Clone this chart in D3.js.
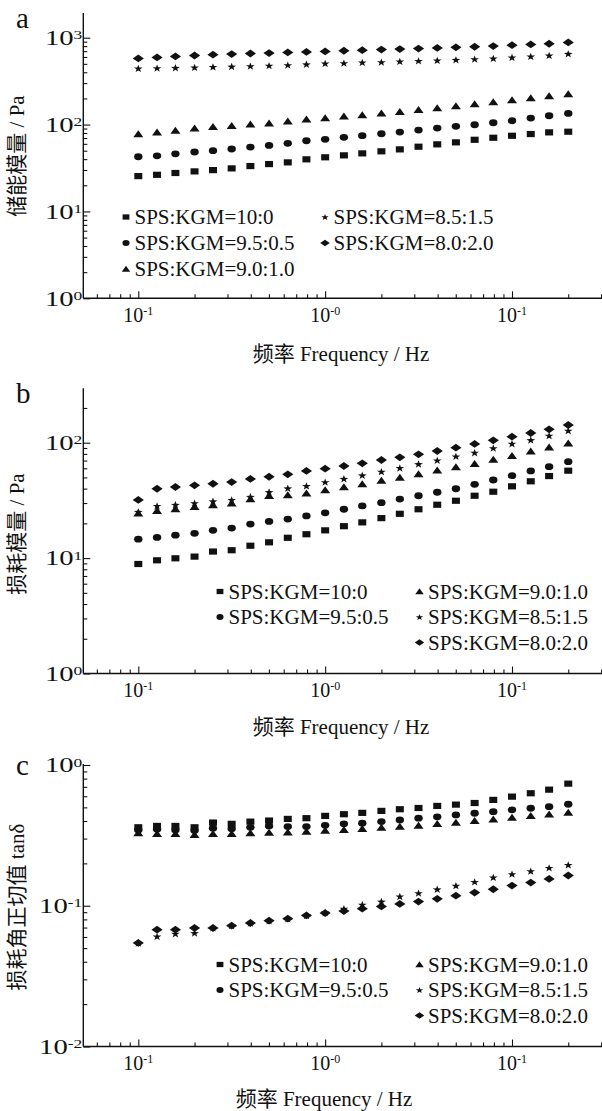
<!DOCTYPE html>
<html lang="zh">
<head>
<meta charset="UTF-8">
<title>SPS/KGM 频率扫描</title>
<script src="https://d3js.org/d3.v7.min.js"></script>
<style>
  body { margin: 0; background: #fff; }
  svg text { font-family: "Liberation Serif", Tinos, "Times New Roman", "DejaVu Serif", "Noto Sans CJK SC", serif; fill: #111; }
  .axis line, .axis path { stroke: #111; }
</style>
</head>
<body>
<div id="chart"></div>
<script>
// frequency (Hz), 10 points per decade
const freq = [0.1, 0.126, 0.158, 0.2, 0.251, 0.316, 0.398, 0.501, 0.631, 0.794,
              1, 1.26, 1.58, 2, 2.51, 3.16, 3.98, 5.01, 6.31, 7.94,
              10, 12.6, 15.8, 20];

const seriesNames = ["SPS:KGM=10:0", "SPS:KGM=9.5:0.5", "SPS:KGM=9.0:1.0", "SPS:KGM=8.5:1.5", "SPS:KGM=8.0:2.0"];
const seriesShapes = ["square", "circle", "triangle", "star", "diamond"];

// a: storage modulus G' (Pa)
const storage_10_0  = [25.5, 26.4, 27.7, 28.9, 29.9, 31.3, 33.3, 35.1, 36.7, 39.8, 42.0, 44.2, 46.6, 49.2, 51.8, 55.6, 59.2, 62.4, 66.8, 70.5, 74.3, 77.8, 81.3, 82.7];
const storage_95_05 = [42.6, 43.7, 46.1, 48.3, 50.0, 52.3, 55.1, 57.6, 60.8, 65.1, 67.6, 71.3, 74.4, 78.4, 82.0, 86.4, 91.2, 95.4, 99.5, 104.9, 110.6, 118.8, 126.3, 134.5];
const storage_90_10 = [77.8, 81.3, 85.3, 90.4, 94.1, 96.6, 100.5, 103.5, 108.9, 114.8, 118.8, 124.3, 128.6, 134.5, 140.3, 148, 154.8, 163.3, 172.2, 181.6, 191.4, 201.8, 212.8, 224.4];
const storage_85_15 = [443, 447, 451, 455, 461, 466, 471, 478, 484, 495, 506, 510, 520, 524, 534, 542, 548, 557, 567, 578, 593, 609, 626, 653];
const storage_80_20 = [578, 593, 609, 624, 638, 648, 658, 666, 676, 685, 695, 708, 718, 730, 740, 750, 762, 775, 787, 800, 820, 836, 852, 883];

// b: loss modulus G'' (Pa)
const loss_10_0  = [8.89, 9.57, 9.96, 10.3, 11.4, 11.7, 12.8, 13.7, 15.0, 16.1, 17.4, 18.9, 20.4, 22.2, 24.2, 26.5, 29.0, 31.4, 34.7, 37.6, 41.9, 46.3, 51.4, 57.2];
const loss_95_05 = [14.6, 15.1, 15.8, 16.4, 17.4, 18.2, 19.7, 20.8, 21.8, 23.2, 24.7, 26.5, 28.3, 30.2, 32.5, 34.7, 37.2, 39.9, 43.6, 47.5, 51.8, 56.9, 62.0, 68.5];
const loss_90_10 = [24.4, 25.7, 26.6, 27.9, 28.8, 29.9, 32.5, 34.7, 35.2, 36.4, 38.9, 41.3, 43.9, 46.9, 49.8, 53.5, 57.6, 61.5, 65.8, 71.3, 77.1, 84.2, 91.2, 98.8];
const loss_85_15 = [25.2, 28.3, 29.0, 29.9, 31.1, 31.9, 34.0, 37.4, 40.3, 42.2, 45.6, 48.7, 52.2, 56.1, 60.4, 65.4, 70.4, 76.2, 81.9, 89.9, 98.0, 105.5, 115.0, 127.1];
const loss_80_20 = [31.9, 39.9, 41.3, 42.7, 44.1, 45.6, 48.5, 50.7, 53.2, 56.9, 59.6, 62.8, 66.3, 70.8, 74.7, 79.3, 84.7, 90.5, 97.5, 104.9, 112.8, 121.4, 130.7, 142.3];

// c: loss tangent tanδ
const tan_10_0  = [0.361, 0.369, 0.369, 0.361, 0.390, 0.382, 0.396, 0.403, 0.414, 0.419, 0.435, 0.447, 0.457, 0.472, 0.485, 0.495, 0.512, 0.523, 0.537, 0.565, 0.596, 0.630, 0.668, 0.737];
const tan_95_05 = [0.346, 0.350, 0.346, 0.342, 0.356, 0.353, 0.361, 0.369, 0.365, 0.365, 0.373, 0.382, 0.386, 0.396, 0.407, 0.419, 0.428, 0.442, 0.454, 0.466, 0.480, 0.493, 0.506, 0.526];
const tan_90_10 = [0.328, 0.324, 0.324, 0.319, 0.324, 0.324, 0.328, 0.331, 0.333, 0.336, 0.342, 0.346, 0.352, 0.359, 0.365, 0.371, 0.382, 0.390, 0.401, 0.412, 0.423, 0.435, 0.447, 0.459];
const tan_85_15 = [0.0544, 0.0606, 0.0633, 0.064, 0.0697, 0.0722, 0.0754, 0.0783, 0.0809, 0.0853, 0.0896, 0.0953, 0.1017, 0.1072, 0.1164, 0.123, 0.131, 0.139, 0.148, 0.159, 0.168, 0.176, 0.186, 0.195];
const tan_80_20 = [0.0544, 0.0676, 0.0676, 0.0695, 0.0695, 0.0722, 0.0754, 0.0783, 0.0809, 0.0853, 0.0887, 0.0917, 0.0953, 0.0989, 0.103, 0.107, 0.112, 0.118, 0.124, 0.131, 0.139, 0.146, 0.155, 0.164];

// tick labels (exponents as printed in the figure)
const xTickValues = [0.1, 1, 10];
const xTickExp = ["-1", "-0", "-1"];
const yTicksA = [1, 10, 100, 1000], yTickExpA = ["0", "1", "2", "3"];
const yTicksB = [1, 10, 100],       yTickExpB = ["0", "1", "2"];
const yTicksC = [0.01, 0.1, 1],     yTickExpC = ["-2", "-1", "0"];

const W = 602, H = 1111;
const svg = d3.select("#chart").append("svg").attr("width", W).attr("height", H);

const axisX = 83.3;
const x = d3.scaleLog().domain([0.1, 10]).range([138.3, 512]);
x.domain([x.invert(axisX), x.invert(W)]).range([axisX, W]);

const xMinor = [0.06, 0.07, 0.08, 0.09, 0.2, 0.3, 0.4, 0.5, 0.6, 0.7, 0.8, 0.9,
                2, 3, 4, 5, 6, 7, 8, 9, 20, 30];

const panels = [
  { letter: "a", letterY: 28, top: 13, bottom: 298.3, topTickY: 37.7,
    ticks: yTicksA, exps: yTickExpA,
    series: [storage_10_0, storage_95_05, storage_90_10, storage_85_15, storage_80_20],
    yTitle: "储能模量 / Pa", yTitleY: 156, xTitleX: 341, xTitleDy: 62.4,
    legendCols: [126, 325], legendRows: [-74.3, -48.3, -22.3],
    legendPos: [[0, 0], [0, 1], [0, 2], [1, 0], [1, 1]] },
  { letter: "b", letterY: 403.3, top: 388.3, bottom: 673.5, topTickY: 442.7,
    ticks: yTicksB, exps: yTickExpB,
    series: [loss_10_0, loss_95_05, loss_90_10, loss_85_15, loss_80_20],
    yTitle: "损耗模量 / Pa", yTitleY: 534, xTitleX: 341, xTitleDy: 60.5,
    legendCols: [220, 419.5], legendRows: [-75, -49.5, -24],
    legendPos: [[0, 0], [0, 1], [1, 0], [1, 1], [1, 2]] },
  { letter: "c", letterY: 775, top: 764, bottom: 1046.5, topTickY: 765,
    ticks: yTicksC, exps: yTickExpC,
    series: [tan_10_0, tan_95_05, tan_90_10, tan_85_15, tan_80_20],
    yTitle: "损耗角正切值 tanδ", yTitleY: 907, xTitleX: 324, xTitleDy: 59.5,
    legendCols: [220, 419.5], legendRows: [-75, -49.5, -24],
    legendPos: [[0, 0], [0, 1], [1, 0], [1, 1], [1, 2]] }
];

function markerPath(shape, s) {
  if (shape === "square") return `M${-4 * s},${-3.1 * s}h${8 * s}v${6.2 * s}h${-8 * s}Z`;
  if (shape === "circle") {
    const rx = 4.2 * s, ry = 3.4 * s;
    return `M${-rx},0a${rx},${ry} 0 1,0 ${2 * rx},0a${rx},${ry} 0 1,0 ${-2 * rx},0Z`;
  }
  if (shape === "triangle") return `M0,${-3.8 * s}L${5 * s},${3.2 * s}L${-5 * s},${3.2 * s}Z`;
  if (shape === "diamond") return `M0,${-3.9 * s}L${5.6 * s},0L0,${3.9 * s}L${-5.6 * s},0Z`;
  // star
  const R = 4.6 * s, r = R * 0.4, pts = [];
  for (let i = 0; i < 10; i++) {
    const a = -Math.PI / 2 + i * Math.PI / 5, rr = i % 2 ? r : R;
    pts.push([rr * Math.cos(a), rr * Math.sin(a) * 0.88 + 0.4 * s]);
  }
  return "M" + pts.map(p => p.join(",")).join("L") + "Z";
}

panels.forEach(p => {
  const y = d3.scaleLog().domain([p.ticks[0], p.ticks[p.ticks.length - 1]]).range([p.bottom, p.topTickY]);
  const yMaxVis = y.invert(p.top);
  const g = svg.append("g");

  // y minor ticks
  const yMinor = [];
  p.ticks.forEach(t => { for (let k = 2; k <= 9; k++) { const v = t * k; if (v <= yMaxVis) yMinor.push(v); } });

  g.append("g").attr("class", "axis").attr("transform", `translate(${axisX},0)`)
    .call(d3.axisRight(y).tickValues(yMinor).tickSize(4).tickFormat(""))
    .call(a => a.select(".domain").remove());
  g.append("g").attr("class", "axis").attr("transform", `translate(${axisX},0)`)
    .call(d3.axisRight(y).tickValues(p.ticks).tickSize(7).tickFormat(""))
    .call(a => a.select(".domain").remove());

  // x ticks (inward)
  g.append("g").attr("class", "axis").attr("transform", `translate(0,${p.bottom})`)
    .call(d3.axisBottom(x).tickValues(xMinor).tickSize(-4).tickFormat(""))
    .call(a => a.select(".domain").remove());
  g.append("g").attr("class", "axis").attr("transform", `translate(0,${p.bottom})`)
    .call(d3.axisBottom(x).tickValues(xTickValues).tickSize(-7).tickFormat(""))
    .call(a => a.select(".domain").remove());
  g.selectAll(".axis line").attr("stroke-width", 1.1);

  // axis lines
  g.append("line").attr("x1", axisX).attr("x2", axisX).attr("y1", p.top).attr("y2", p.bottom)
    .attr("stroke", "#111").attr("stroke-width", 1.4);
  g.append("line").attr("x1", axisX).attr("x2", W).attr("y1", p.bottom).attr("y2", p.bottom)
    .attr("stroke", "#111").attr("stroke-width", 1.4);

  // y tick labels (horizontally stretched like the original)
  p.ticks.forEach((t, i) => {
    const lab = g.append("g").attr("transform", `translate(${axisX - 1},${y(t) + 7.2})`)
      .append("text").attr("text-anchor", "end").attr("transform", "scale(1.4,1)")
      .style("font-size", "20.5px");
    lab.append("tspan").text("10");
    lab.append("tspan").attr("dy", -5.5).style("font-size", "12.5px").text(p.exps[i]);
  });

  // x tick labels
  xTickValues.forEach((t, i) => {
    const lab = g.append("text").attr("x", x(t)).attr("y", p.bottom + 23.4)
      .attr("text-anchor", "middle").style("font-size", "20px");
    lab.append("tspan").text("10");
    lab.append("tspan").attr("dy", -6.5).style("font-size", "12px").text(xTickExp[i]);
  });

  // titles
  g.append("text").attr("transform", `translate(24,${p.yTitleY}) rotate(-90)`)
    .attr("text-anchor", "middle").style("font-size", "21px").text(p.yTitle);
  g.append("text").attr("x", p.xTitleX).attr("y", p.bottom + p.xTitleDy)
    .attr("text-anchor", "middle").style("font-size", "21px").text("频率 Frequency / Hz");
  g.append("text").attr("x", 16).attr("y", p.letterY).style("font-size", "29px").text(p.letter);

  // data points
  p.series.forEach((vals, si) => {
    g.append("g").selectAll("path")
      .data(vals.map((v, i) => [freq[i], v]))
      .join("path")
      .attr("transform", d => `translate(${x(d[0])},${y(d[1])})`)
      .attr("d", markerPath(seriesShapes[si], 1))
      .attr("fill", "#111");
  });

  // legend
  const leg = g.append("g").attr("transform", `translate(0,${p.bottom})`);
  p.legendPos.forEach((pos, si) => {
    const cx = p.legendCols[pos[0]], by = p.legendRows[pos[1]];
    leg.append("path").attr("transform", `translate(${cx},${by - 7})`)
      .attr("d", markerPath(seriesShapes[si], 0.85)).attr("fill", "#111");
    leg.append("text").attr("x", cx + 8.5).attr("y", by)
      .style("font-size", "21px").text(seriesNames[si]);
  });
});
</script>
</body>
</html>
